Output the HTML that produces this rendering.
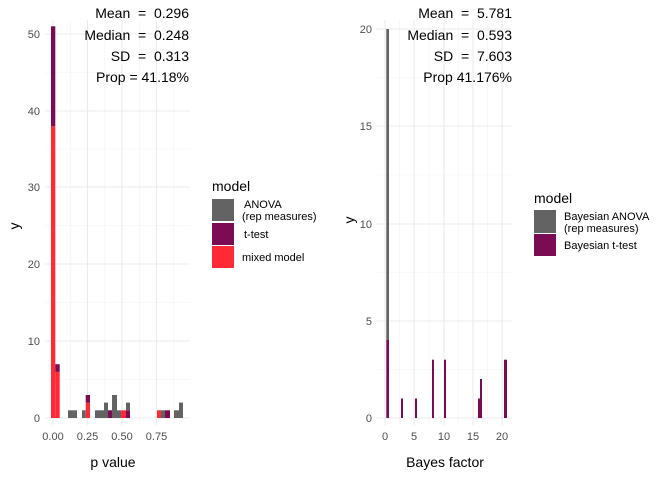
<!DOCTYPE html><html><head><style>body{margin:0;background:#fff}svg{display:block;font-family:"Liberation Sans",sans-serif}text{white-space:pre}</style></head><body>
<svg width="672" height="480" viewBox="0 0 672 480" xmlns="http://www.w3.org/2000/svg" xml:space="preserve">
<g stroke="#f3f3f3" stroke-width="0.6">
<line x1="45" x2="190" y1="379.6" y2="379.6"/><line x1="45" x2="190" y1="302.6" y2="302.6"/><line x1="45" x2="190" y1="225.6" y2="225.6"/><line x1="45" x2="190" y1="149" y2="149"/><line x1="45" x2="190" y1="72.5" y2="72.5"/>
<line x1="70.3" x2="70.3" y1="20" y2="425"/><line x1="104.8" x2="104.8" y1="20" y2="425"/><line x1="139.3" x2="139.3" y1="20" y2="425"/><line x1="173.8" x2="173.8" y1="20" y2="425"/>
<line x1="376" x2="512" y1="369.5" y2="369.5"/><line x1="376" x2="512" y1="272.5" y2="272.5"/><line x1="376" x2="512" y1="175" y2="175"/><line x1="376" x2="512" y1="77.5" y2="77.5"/>
<line x1="399.5" x2="399.5" y1="20" y2="425"/><line x1="429" x2="429" y1="20" y2="425"/><line x1="458.5" x2="458.5" y1="20" y2="425"/><line x1="487.5" x2="487.5" y1="20" y2="425"/>
</g>
<g stroke="#ebebeb" stroke-width="1.1">
<line x1="45" x2="190" y1="418" y2="418"/><line x1="45" x2="190" y1="341" y2="341"/><line x1="45" x2="190" y1="264" y2="264"/><line x1="45" x2="190" y1="187" y2="187"/><line x1="45" x2="190" y1="111" y2="111"/><line x1="45" x2="190" y1="34" y2="34"/>
<line x1="53" x2="53" y1="20" y2="425"/><line x1="87.5" x2="87.5" y1="20" y2="425"/><line x1="122" x2="122" y1="20" y2="425"/><line x1="156.5" x2="156.5" y1="20" y2="425"/>
<line x1="376" x2="512" y1="418" y2="418"/><line x1="376" x2="512" y1="321" y2="321"/><line x1="376" x2="512" y1="224" y2="224"/><line x1="376" x2="512" y1="126" y2="126"/><line x1="376" x2="512" y1="29" y2="29"/>
<line x1="385" x2="385" y1="20" y2="425"/><line x1="414" x2="414" y1="20" y2="425"/><line x1="444" x2="444" y1="20" y2="425"/><line x1="473" x2="473" y1="20" y2="425"/><line x1="502" x2="502" y1="20" y2="425"/>
</g>
<g>
<rect x="51" y="126.2" width="4.3" height="291.8" fill="#ff2a36"/><rect x="51" y="26.3" width="4.3" height="99.9" fill="#7b0b52"/>
<rect x="55.3" y="371.9" width="4.4" height="46.1" fill="#ff2a36"/><rect x="55.3" y="364.2" width="4.4" height="7.7" fill="#7b0b52"/>
<rect x="68" y="410.3" width="9" height="7.7" fill="#636363"/>
<rect x="82" y="410.3" width="3.7" height="7.7" fill="#636363"/>
<rect x="85.7" y="402.6" width="4.3" height="15.4" fill="#ff2a36"/><rect x="85.7" y="395" width="4.3" height="7.6" fill="#7b0b52"/>
<rect x="95" y="410.3" width="9" height="7.7" fill="#636363"/>
<rect x="104" y="402.6" width="4" height="15.4" fill="#636363"/>
<rect x="108" y="410.3" width="4" height="7.7" fill="#7b0b52"/>
<rect x="112" y="395" width="5" height="23" fill="#636363"/>
<rect x="117" y="410.3" width="4" height="7.7" fill="#636363"/>
<rect x="121" y="410.3" width="5" height="7.7" fill="#ff2a36"/>
<rect x="126" y="410.3" width="4" height="7.7" fill="#7b0b52"/><rect x="126" y="402.6" width="4" height="7.7" fill="#636363"/>
<rect x="157" y="410.3" width="4" height="7.7" fill="#ff2a36"/>
<rect x="161" y="410.3" width="4" height="7.7" fill="#636363"/>
<rect x="165" y="410.3" width="5" height="7.7" fill="#7b0b52"/>
<rect x="174" y="410.3" width="5" height="7.7" fill="#636363"/>
<rect x="179" y="402.6" width="4" height="15.4" fill="#636363"/>
</g>
<g>
<rect x="386.3" y="29" width="2.7" height="311" fill="#636363"/><rect x="386.3" y="340" width="2.7" height="78" fill="#7b0b52"/>
<rect x="401" y="398.5" width="2" height="19.5" fill="#7b0b52"/>
<rect x="415" y="398.5" width="2" height="19.5" fill="#7b0b52"/>
<rect x="432" y="359.7" width="2" height="58.3" fill="#7b0b52"/>
<rect x="444" y="359.7" width="2" height="58.3" fill="#7b0b52"/>
<rect x="478" y="398.5" width="2" height="19.5" fill="#7b0b52"/>
<rect x="480" y="379" width="2" height="39" fill="#7b0b52"/>
<rect x="504" y="359.7" width="3" height="58.3" fill="#7b0b52"/>
</g>
<g fill="#4d4d4d" font-size="11" text-anchor="end">
<text x="40" y="422">0</text><text x="40" y="345">10</text><text x="40" y="268">20</text><text x="40" y="191">30</text><text x="40" y="115">40</text><text x="40" y="38">50</text>
<text x="372" y="422">0</text><text x="372" y="325">5</text><text x="372" y="228">10</text><text x="372" y="130">15</text><text x="372" y="33">20</text>
</g>
<g fill="#4d4d4d" font-size="11" text-anchor="middle">
<text x="53" y="440">0.00</text><text x="87.5" y="440">0.25</text><text x="122" y="440">0.50</text><text x="156.5" y="440">0.75</text>
<text x="385" y="440">0</text><text x="414" y="440">5</text><text x="444" y="440">10</text><text x="473" y="440">15</text><text x="502" y="440">20</text>
</g>
<g fill="#000" font-size="14">
<text x="113" y="467" text-anchor="middle">p value</text>
<text x="445" y="467" text-anchor="middle">Bayes factor</text>
<text transform="translate(19,226) rotate(-90)" text-anchor="middle">y</text>
<text transform="translate(354,220) rotate(-90)" text-anchor="middle">y</text>
<g text-anchor="end">
<text x="189" y="18">Mean  =  0.296</text><text x="189" y="40">Median  =  0.248</text><text x="189" y="61">SD  =  0.313</text><text x="189" y="82">Prop = 41.18%</text>
<text x="512" y="18">Mean  =  5.781</text><text x="512" y="40">Median  =  0.593</text><text x="512" y="61">SD  =  7.603</text><text x="512" y="82">Prop 41.176%</text>
</g>
<text x="212" y="191">model</text>
<text x="534" y="203">model</text>
</g>
<rect x="212" y="199" width="22" height="22" fill="#636363"/>
<rect x="212" y="223" width="22" height="22" fill="#7b0b52"/>
<rect x="212" y="246" width="22" height="22" fill="#ff2a36"/>
<rect x="534" y="210" width="22" height="23" fill="#636363"/>
<rect x="534" y="234" width="22" height="22" fill="#7b0b52"/>
<g fill="#000" font-size="11">
<text x="244" y="208">ANOVA</text><text x="242" y="220">(rep measures)</text>
<text x="244" y="238">t-test</text><text x="242" y="261">mixed model</text>
<text x="564" y="220">Bayesian ANOVA</text><text x="564" y="232">(rep measures)</text>
<text x="564" y="249">Bayesian t-test</text>
</g>
</svg></body></html>
